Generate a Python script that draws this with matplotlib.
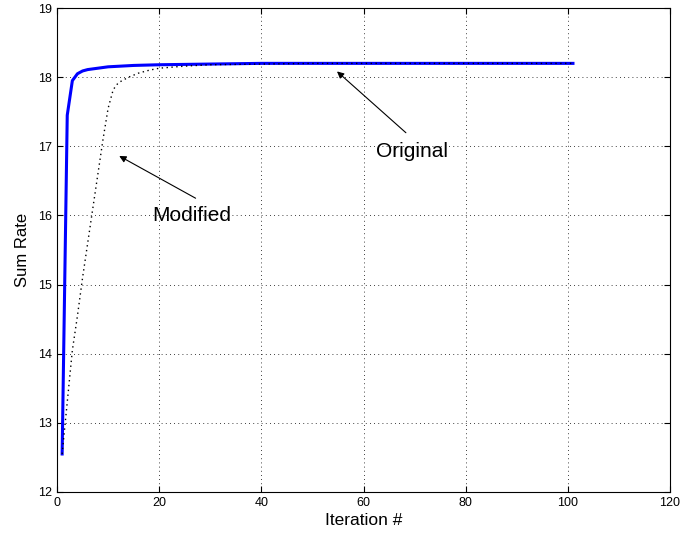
import matplotlib
matplotlib.use("Agg")
import matplotlib.pyplot as plt

# sum rate per iteration
orig_iter = [1, 2, 3, 4, 5, 6, 8, 10, 15, 20, 30, 40, 60, 101]
orig_rate = [12.55, 17.45, 17.95, 18.05, 18.09, 18.11, 18.13, 18.15,
             18.17, 18.18, 18.19, 18.2, 18.2, 18.2]

mod_iter = [1, 2, 3, 4, 5, 6, 7, 8, 9, 10, 11, 12, 14, 16, 18, 20,
            25, 30, 40, 50, 101]
mod_rate = [12.55, 13.3, 14.05, 14.55, 15.1, 15.6, 16.1, 16.6, 17.1,
            17.55, 17.82, 17.92, 18.0, 18.06, 18.1, 18.13, 18.16,
            18.18, 18.19, 18.2, 18.2]

plt.rcParams["font.family"] = ["Liberation Sans", "DejaVu Sans"]

fig = plt.figure(figsize=(6.83, 5.37), dpi=100)
ax = fig.add_axes([0.0835, 0.0838, 0.8975, 0.9012])

ax.plot(orig_iter, orig_rate, color="#0000ff", lw=2.2)
ax.plot(mod_iter, mod_rate, color="black", lw=1.0, ls=(0, (1, 2.5)))

ax.set_xlim(0, 120)
ax.set_ylim(12, 19)
ax.set_xticks(range(0, 121, 20))
ax.set_yticks(range(12, 20))
ax.grid(True, color="black", ls=(0, (1, 4)), lw=0.6)
ax.tick_params(direction="in", top=True, right=True, labelsize=9, length=4)
for s in ax.spines.values():
    s.set_linewidth(0.8)

ax.set_xlabel("Iteration #", fontsize=12.5, labelpad=3)
ax.set_ylabel("Sum Rate", fontsize=12, labelpad=6)

arrow = dict(arrowstyle="-|>", color="black", lw=0.8, mutation_scale=10)
ax.annotate("", xy=(54.4, 18.11), xytext=(68.7, 17.17), arrowprops=arrow)
ax.text(69.5, 16.92, "Original", fontsize=15, ha="center", va="center")
ax.annotate("", xy=(11.7, 16.88), xytext=(27.6, 16.23), arrowprops=arrow)
ax.text(26.4, 16.0, "Modified", fontsize=15, ha="center", va="center")

fig.savefig("out.png", dpi=100)
